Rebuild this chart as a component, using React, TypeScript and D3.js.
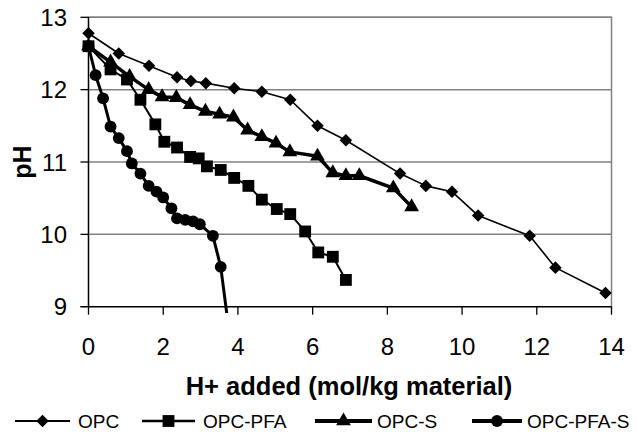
import React from "react";
import * as d3 from "d3";

// pH titration curves
const opcX = [0, 0.81, 1.62, 2.37, 2.74, 3.14, 3.9, 4.64, 5.4, 6.13, 6.89, 8.34, 9.03, 9.73, 10.43, 11.81, 12.5, 13.84];
const opcY = [12.78, 12.5, 12.33, 12.17, 12.12, 12.09, 12.02, 11.97, 11.86, 11.5, 11.3, 10.84, 10.67, 10.59, 10.26, 9.98, 9.54, 9.19];

const pfaX = [0, 0.59, 1.03, 1.39, 1.79, 2.03, 2.37, 2.72, 2.95, 3.17, 3.54, 3.9, 4.28, 4.64, 5.04, 5.4, 5.8, 6.15, 6.54, 6.89];
const pfaY = [12.6, 12.28, 12.14, 11.86, 11.52, 11.28, 11.2, 11.07, 11.05, 10.94, 10.89, 10.78, 10.67, 10.48, 10.35, 10.28, 10.04, 9.75, 9.69, 9.37];

const sX = [0, 0.59, 1.1, 1.61, 1.97, 2.35, 2.72, 3.13, 3.51, 3.88, 4.26, 4.64, 5.02, 5.39, 6.13, 6.54, 6.89, 7.25, 8.16, 8.65];
const sY = [12.6, 12.38, 12.18, 12.0, 11.9, 11.89, 11.79, 11.7, 11.66, 11.62, 11.44, 11.35, 11.26, 11.14, 11.08, 10.85, 10.81, 10.81, 10.64, 10.38];

const pfasX = [0, 0.19, 0.39, 0.59, 0.81, 1.03, 1.16, 1.39, 1.61, 1.82, 2.0, 2.22, 2.37, 2.59, 2.8, 2.98, 3.33, 3.54, 3.93];
const pfasY = [12.6, 12.2, 11.88, 11.49, 11.33, 11.15, 10.98, 10.84, 10.67, 10.59, 10.51, 10.36, 10.22, 10.2, 10.18, 10.14, 9.98, 9.55, 8.0];

const xTicks = [0, 2, 4, 6, 8, 10, 12, 14];
const yTicks = [9, 10, 11, 12, 13];

const seriesNames = ["OPC", "OPC-PFA", "OPC-S", "OPC-PFA-S"];

const W = 637;
const H = 432;
const plot = { left: 88.5, right: 611.5, top: 17.3, bottom: 306.7 };
const font = "Arial, 'Liberation Sans', sans-serif";

const x = d3.scaleLinear().domain([0, 14]).range([plot.left, plot.right]);
const y = d3.scaleLinear().domain([9, 13]).range([plot.bottom, plot.top]);

type Series = {
	name: string;
	xs: number[];
	ys: number[];
	symbol: d3.SymbolType;
	size: number;
	width: number;
	legendWidth: number;
};

const series: Series[] = [
	{ name: seriesNames[0], xs: opcX, ys: opcY, symbol: d3.symbolDiamond2, size: 100, width: 1.6, legendWidth: 2 },
	{ name: seriesNames[1], xs: pfaX, ys: pfaY, symbol: d3.symbolSquare, size: 140, width: 2, legendWidth: 2.5 },
	{ name: seriesNames[2], xs: sX, ys: sY, symbol: d3.symbolTriangle, size: 95, width: 3.5, legendWidth: 4 },
	{ name: seriesNames[3], xs: pfasX, ys: pfasY, symbol: d3.symbolCircle, size: 110, width: 3, legendWidth: 4 },
];

// legend entries: line start, line end, text start
const legendPos = [
	[15, 70, 78],
	[142, 195, 203],
	[315, 372, 377],
	[472, 522, 527],
];
const legendY = 421;

const line = d3
	.line<[number, number]>()
	.x((d) => x(d[0]))
	.y((d) => y(d[1]));

export default function App() {
	return (
		<svg width={W} height={H} style={{ position: "absolute", left: 0, top: 0, background: "#fff" }}>
			<defs>
				<clipPath id="plotClip">
					<rect x={0} y={0} width={W} height={313} />
				</clipPath>
			</defs>

			{/* plot frame and gridlines */}
			<rect
				x={plot.left}
				y={plot.top}
				width={plot.right - plot.left}
				height={plot.bottom - plot.top}
				fill="none"
				stroke="#808080"
				strokeWidth={1.5}
			/>
			{yTicks.map((t) => (
				<line key={"g" + t} x1={plot.left} x2={plot.right} y1={y(t)} y2={y(t)} stroke="#808080" strokeWidth={1.5} />
			))}

			{/* axes */}
			<line x1={plot.left} x2={plot.left} y1={plot.top} y2={plot.bottom} stroke="#000" strokeWidth={1.3} />
			<line x1={plot.left - 8} x2={plot.right} y1={plot.bottom} y2={plot.bottom} stroke="#000" strokeWidth={1.3} />
			{yTicks.map((t) => (
				<g key={"y" + t}>
					<line x1={plot.left - 8} x2={plot.left} y1={y(t)} y2={y(t)} stroke="#000" strokeWidth={1.3} />
					<text
						x={67}
						y={y(t)}
						textAnchor="end"
						dominantBaseline="central"
						fontFamily={font}
						fontSize={24}
					>
						{t}
					</text>
				</g>
			))}
			{xTicks.map((t) => (
				<g key={"x" + t}>
					<line x1={x(t)} x2={x(t)} y1={plot.bottom} y2={plot.bottom + 8} stroke="#000" strokeWidth={1.3} />
					<text x={x(t)} y={346} textAnchor="middle" dominantBaseline="central" fontFamily={font} fontSize={24}>
						{t}
					</text>
				</g>
			))}

			{/* axis titles */}
			<text
				x={349}
				y={386}
				textAnchor="middle"
				dominantBaseline="central"
				fontFamily={font}
				fontWeight="bold"
				fontSize={25.5}
			>
				H+ added (mol/kg material)
			</text>
			<text
				transform={`translate(22,${(plot.top + plot.bottom) / 2}) rotate(-90)`}
				textAnchor="middle"
				dominantBaseline="central"
				fontFamily={font}
				fontWeight="bold"
				fontSize={25}
			>
				pH
			</text>

			{/* series */}
			<g clipPath="url(#plotClip)">
				{series.map((s) => {
					const pts = s.xs.map((v, i) => [v, s.ys[i]] as [number, number]);
					const sym = d3.symbol().type(s.symbol).size(s.size)() || "";
					return (
						<g key={s.name}>
							<path d={line(pts) || ""} fill="none" stroke="#000" strokeWidth={s.width} strokeLinejoin="round" />
							{pts.map((p, i) => (
								<path key={i} d={sym} transform={`translate(${x(p[0])},${y(p[1])})`} fill="#000" />
							))}
						</g>
					);
				})}
			</g>

			{/* legend */}
			{series.map((s, i) => {
				const [a, b, tx] = legendPos[i];
				const sym = d3.symbol().type(s.symbol).size(s.size)() || "";
				return (
					<g key={"l" + s.name}>
						<line x1={a} x2={b} y1={legendY} y2={legendY} stroke="#000" strokeWidth={s.legendWidth} />
						<path d={sym} transform={`translate(${(a + b) / 2},${legendY})`} fill="#000" />
						<text x={tx} y={legendY} dominantBaseline="central" fontFamily={font} fontSize={19}>
							{s.name}
						</text>
					</g>
				);
			})}
		</svg>
	);
}
